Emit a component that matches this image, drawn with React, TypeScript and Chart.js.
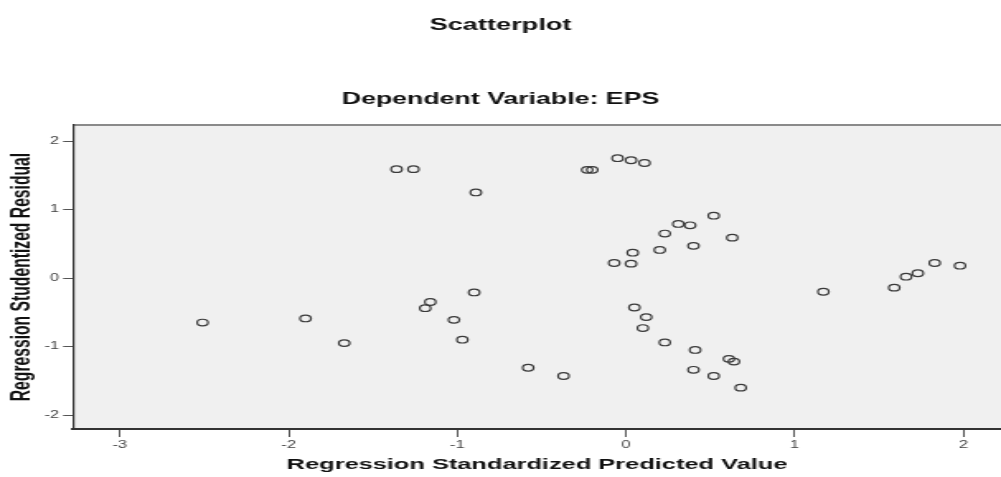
import React, { useEffect, useRef } from "react";
import { Chart, registerables } from "chart.js";

Chart.register(...registerables);

const chartTitle = "Scatterplot";
const chartSubtitle = "Dependent Variable: EPS";
const xAxisTitle = "Regression Standardized Predicted Value";
const yAxisTitle = "Regression Studentized Residual";

const predictedValues = [
  -2.51, -1.9, -1.67, -1.36, -1.26, -1.16, -1.19, -1.02, -0.97, -0.89, -0.9,
  -0.58, -0.37, -0.23, -0.2, -0.05, 0.03, 0.11, -0.07, 0.03, 0.04, 0.2, 0.23,
  0.31, 0.38, 0.52, 0.63, 0.4, 0.05, 0.12, 0.1, 0.23, 0.41, 0.4, 0.52, 0.61,
  0.64, 0.68, 1.17, 1.59, 1.66, 1.73, 1.83, 1.98,
];
const studentizedResiduals = [
  -0.65, -0.59, -0.95, 1.59, 1.59, -0.35, -0.44, -0.61, -0.9, 1.25, -0.21,
  -1.31, -1.43, 1.58, 1.58, 1.75, 1.72, 1.68, 0.22, 0.21, 0.37, 0.41, 0.65,
  0.79, 0.77, 0.91, 0.59, 0.47, -0.43, -0.57, -0.73, -0.94, -1.05, -1.34,
  -1.43, -1.18, -1.22, -1.6, -0.2, -0.14, 0.02, 0.07, 0.22, 0.18,
];

const xRange = [-3.278, 2.223];
const yRange = [-2.204, 2.234];

const INNER_W = 607;
const INNER_H = 477;

const plotFramePlugin = {
  id: "plotFrame",
  beforeDraw(chart: any) {
    const { ctx, chartArea } = chart;
    if (!chartArea) return;
    ctx.save();
    ctx.fillStyle = "#f0f0f0";
    ctx.fillRect(
      chartArea.left,
      chartArea.top,
      chartArea.right - chartArea.left,
      chartArea.bottom - chartArea.top
    );
    ctx.strokeStyle = "#8a8a8a";
    ctx.lineWidth = 2;
    ctx.beginPath();
    ctx.moveTo(chartArea.left, chartArea.top);
    ctx.lineTo(chartArea.right, chartArea.top);
    ctx.stroke();
    ctx.restore();
  },
};

export default function App() {
  const canvasRef = useRef<HTMLCanvasElement | null>(null);

  useEffect(() => {
    const canvas = canvasRef.current;
    if (!canvas) return;
    const points = predictedValues.map((x, i) => ({
      x,
      y: studentizedResiduals[i],
    }));
    const chart = new Chart(canvas, {
      type: "scatter",
      data: {
        datasets: [
          {
            label: "Residuals",
            data: points,
            pointStyle: "circle",
            pointRadius: 3.3,
            pointBorderWidth: 1.2,
            pointBorderColor: "#3a3a3a",
            pointBackgroundColor: "rgba(0,0,0,0)",
          },
        ],
      },
      options: {
        animation: false,
        responsive: false,
        devicePixelRatio: 1,
        events: [],
        layout: { padding: 0, autoPadding: false },
        plugins: {
          legend: { display: false },
          tooltip: { enabled: false },
          title: {
            display: true,
            text: chartTitle,
            color: "#111",
            font: { family: "'Liberation Sans', Arial, sans-serif", size: 16.5, weight: "bold" },
            padding: { top: 15.1, bottom: 0 },
          },
          subtitle: {
            display: true,
            text: chartSubtitle,
            color: "#111",
            font: { family: "'Liberation Sans', Arial, sans-serif", size: 16.2, weight: "bold" },
            padding: { top: 55.4, bottom: 15.3 },
          },
        },
        scales: {
          x: {
            type: "linear",
            min: xRange[0],
            max: xRange[1],
            afterFit(scale: any) {
              scale.height = 48;
            },
            border: { display: true, color: "#333", width: 2 },
            grid: {
              display: true,
              drawOnChartArea: false,
              drawTicks: true,
              tickLength: 8,
              tickColor: "#555",
              tickWidth: 1,
            },
            ticks: {
              stepSize: 1,
              includeBounds: false,
              maxRotation: 0,
              padding: 2.5,
              color: "#444",
              font: { family: "'Liberation Sans', Arial, sans-serif", size: 10 },
            },
            title: {
              display: true,
              text: xAxisTitle,
              color: "#111",
              font: { family: "'Liberation Sans', Arial, sans-serif", size: 15.4, weight: "bold" },
              padding: { top: 0, bottom: 2.8 },
            },
          },
          y: {
            type: "linear",
            min: yRange[0],
            max: yRange[1],
            afterFit(scale: any) {
              scale.width = 44.27;
            },
            border: { display: true, color: "#333", width: 1.2 },
            grid: {
              display: true,
              drawOnChartArea: false,
              drawTicks: true,
              tickLength: 6,
              tickColor: "#555",
              tickWidth: 1,
            },
            ticks: {
              stepSize: 1,
              includeBounds: false,
              padding: 2.4,
              color: "#444",
              font: { family: "'Liberation Sans', Arial, sans-serif", size: 10 },
            },
            title: {
              display: true,
              text: yAxisTitle,
              color: "#111",
              font: { family: "'Liberation Sans', Arial, sans-serif", size: 15.7, weight: "bold" },
              padding: { top: 4.2, bottom: 0 },
            },
          },
        },
      },
      plugins: [plotFramePlugin],
    });
    return () => chart.destroy();
  }, []);

  return (
    <div
      style={{
        position: "fixed",
        left: 0,
        top: 0,
        width: "1001px",
        height: "477px",
        overflow: "hidden",
        background: "#fff",
      }}
    >
      <canvas
        ref={canvasRef}
        width={INNER_W}
        height={INNER_H}
        style={{ width: "1001px", height: "477px", display: "block" }}
      />
    </div>
  );
}
